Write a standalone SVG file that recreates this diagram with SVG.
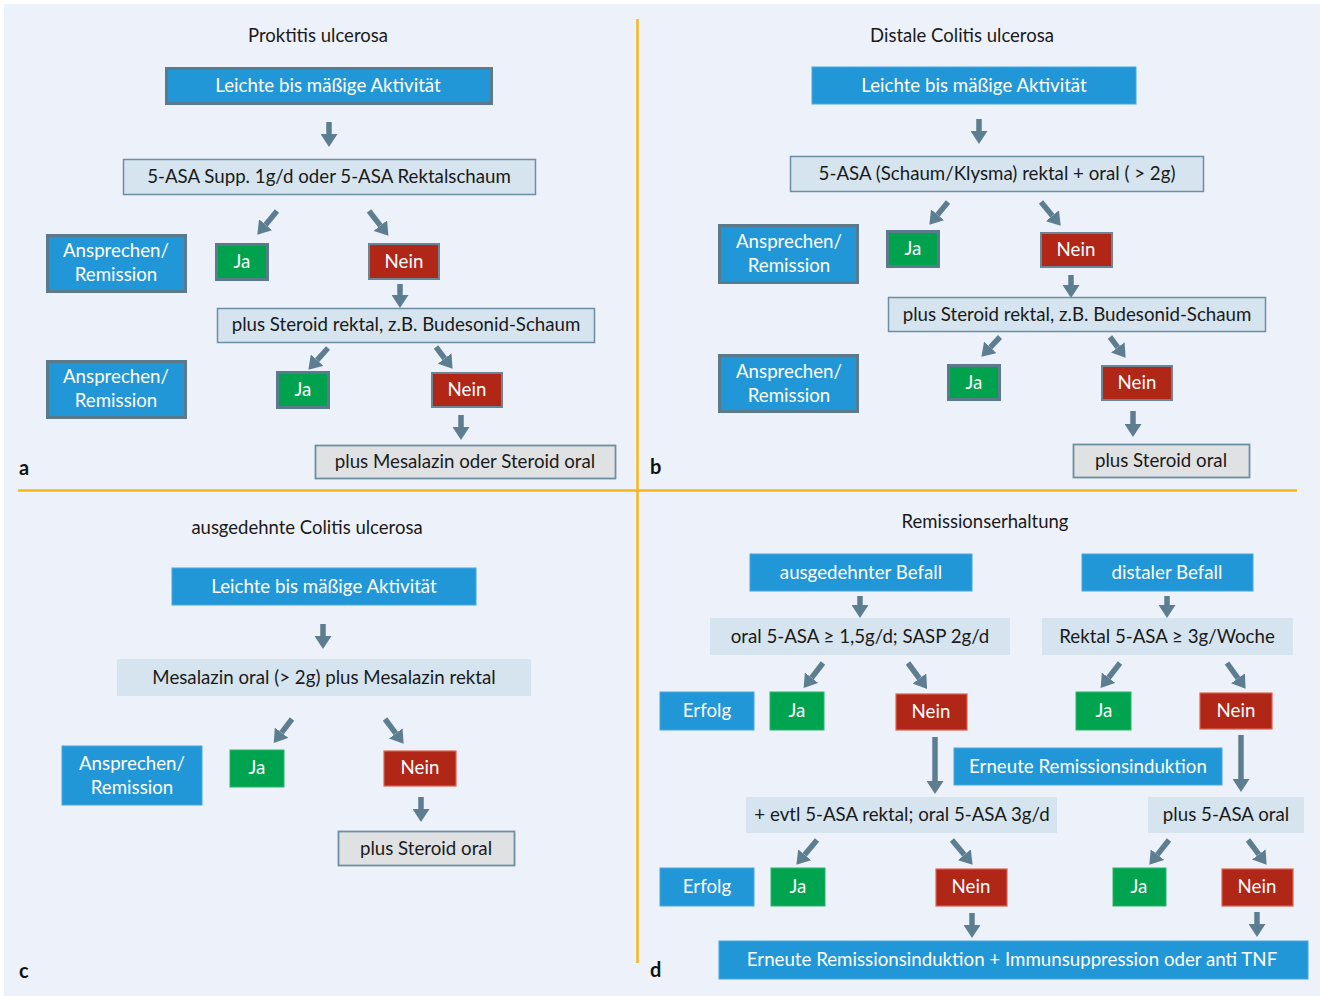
<svg xmlns="http://www.w3.org/2000/svg" width="1320" height="996" viewBox="0 0 1320 996">
<defs>
<marker id="ah" markerUnits="userSpaceOnUse" markerWidth="13" markerHeight="17" refX="0" refY="8.5" orient="auto" viewBox="0 0 13 17">
<path d="M0,0 L13,8.5 L0,17 z" fill="#5d7e90"/>
</marker>
<style>
text{font-family:Lato,"Liberation Sans",sans-serif;font-size:18.7px;text-anchor:middle}
.t{fill:#1a1a1a;font-size:18.5px}
.w{fill:#ffffff}
.k{fill:#1a1a1a}
.lbl{fill:#111;font-weight:bold;font-size:20px;text-anchor:start}
.bd{fill:#2297d7;stroke:#5b7b8d;stroke-width:3}
.b{fill:#2297d7;stroke:#4aa6dc;stroke-width:1}
.gd{fill:#00a24d;stroke:#5b7b8d;stroke-width:3}
.g{fill:#00a44f;stroke:#2bb56a;stroke-width:1}
.rd{fill:#b02617;stroke:#6a8596;stroke-width:2}
.r{fill:#b02617;stroke:#e0604f;stroke-width:1.2}
.lb{fill:#d5e4ee;stroke:#6d8fa3;stroke-width:1.5}
.ln{fill:#d5e4ee}
.gr{fill:#e0e1e3;stroke:#6d8fa3;stroke-width:1.8}
.ar{stroke:#5d7e90;stroke-width:5.5;fill:none;marker-end:url(#ah)}
.div{stroke:#f8b719;stroke-width:2.5}
</style>
</defs>
<rect x="4" y="4" width="1316" height="992" fill="#edf1f9"/>
<rect x="0" y="0" width="1320" height="4" fill="#ffffff"/>
<rect x="0" y="0" width="4" height="996" fill="#ffffff"/>
<g id="dividers">
<line class="div" x1="637.5" y1="19" x2="637.5" y2="963"/>
<line class="div" x1="18" y1="490.5" x2="1297" y2="490.5"/>
</g>

<g id="connectors">
<line class="ar" x1="329" y1="122" x2="329" y2="134"/>
<line class="ar" x1="277" y1="211" x2="265.6" y2="224.7"/>
<line class="ar" x1="369" y1="211" x2="380.4" y2="225.6"/>
<line class="ar" x1="400" y1="284" x2="400" y2="295"/>
<line class="ar" x1="328" y1="348" x2="317.1" y2="360.1"/>
<line class="ar" x1="436" y1="347" x2="444.7" y2="358.5"/>
<line class="ar" x1="461" y1="415" x2="461" y2="427"/>

<line class="ar" x1="979" y1="119" x2="979" y2="131"/>
<line class="ar" x1="948" y1="202" x2="937.6" y2="214.7"/>
<line class="ar" x1="1041" y1="202" x2="1052.4" y2="215.7"/>
<line class="ar" x1="1071" y1="275" x2="1071" y2="285"/>
<line class="ar" x1="1000" y1="337" x2="990.3" y2="347.3"/>
<line class="ar" x1="1110" y1="337" x2="1117.8" y2="347.4"/>
<line class="ar" x1="1133" y1="411" x2="1133" y2="424"/>

<line class="ar" x1="323" y1="624" x2="323" y2="636"/>
<line class="ar" x1="292" y1="719" x2="281.6" y2="732.7"/>
<line class="ar" x1="385" y1="719" x2="395.8" y2="733.4"/>
<line class="ar" x1="421" y1="797" x2="421" y2="809"/>

<line class="ar" x1="860" y1="596" x2="860" y2="605"/>
<line class="ar" x1="1167" y1="596" x2="1167" y2="605"/>
<line class="ar" x1="823" y1="663" x2="811.6" y2="677.7"/>
<line class="ar" x1="908" y1="663" x2="919.4" y2="678.5"/>
<line class="ar" x1="1120" y1="663" x2="1108.6" y2="677.7"/>
<line class="ar" x1="1227" y1="663" x2="1238" y2="678.3"/>
<line class="ar" x1="935" y1="737" x2="935" y2="781"/>
<line class="ar" x1="1241" y1="735" x2="1241" y2="779"/>
<line class="ar" x1="817" y1="840" x2="804.7" y2="854.8"/>
<line class="ar" x1="952" y1="840" x2="964.3" y2="854.8"/>
<line class="ar" x1="1169" y1="840" x2="1157.4" y2="854.6"/>
<line class="ar" x1="1248" y1="840" x2="1258.8" y2="854.4"/>
<line class="ar" x1="972" y1="913" x2="972" y2="925"/>
<line class="ar" x1="1257" y1="912" x2="1257" y2="924"/>
</g>

<!-- Panel a -->
<g id="a-title"><text class="t" x="318" y="42">Proktitis ulcerosa</text></g>
<g id="a-aktiv"><rect class="bd" x="166.5" y="68.5" width="325" height="35"/><text class="w" x="328" y="92">Leichte bis mäßige Aktivität</text></g>
<g id="a-asa"><rect class="lb" x="123.5" y="159.5" width="412" height="35"/><text class="k" x="329" y="183">5-ASA Supp. 1g/d oder 5-ASA Rektalschaum</text></g>
<g id="a-resp1"><rect class="bd" x="47.5" y="235.5" width="138" height="56"/><text class="w" x="116" y="257">Ansprechen/</text><text class="w" x="116" y="281">Remission</text></g>
<g id="a-ja1"><rect class="gd" x="216.5" y="244.5" width="51" height="35"/><text class="w" x="242" y="268">Ja</text></g>
<g id="a-nein1"><rect class="rd" x="369" y="244" width="70" height="35"/><text class="w" x="404" y="268">Nein</text></g>
<g id="a-steroid"><rect class="lb" x="217.5" y="308.5" width="377" height="34"/><text class="k" x="406" y="331">plus Steroid rektal, z.B. Budesonid-Schaum</text></g>
<g id="a-resp2"><rect class="bd" x="47.5" y="361.5" width="138" height="56"/><text class="w" x="116" y="383">Ansprechen/</text><text class="w" x="116" y="407">Remission</text></g>
<g id="a-ja2"><rect class="gd" x="277.5" y="372.5" width="51" height="35"/><text class="w" x="303" y="396">Ja</text></g>
<g id="a-nein2"><rect class="rd" x="432" y="373" width="70" height="34"/><text class="w" x="467" y="396">Nein</text></g>
<g id="a-final"><rect class="gr" x="315.5" y="445.5" width="300" height="33"/><text class="k" x="465" y="468">plus Mesalazin oder Steroid oral</text></g>
<g id="a-label"><text class="lbl" x="19" y="475">a</text></g>

<!-- Panel b -->
<g id="b-title"><text class="t" x="962" y="42">Distale Colitis ulcerosa</text></g>
<g id="b-aktiv"><rect class="b" x="812" y="67" width="324" height="37"/><text class="w" x="974" y="92">Leichte bis mäßige Aktivität</text></g>
<g id="b-asa"><rect class="lb" x="790.5" y="156.5" width="413" height="35"/><text class="k" x="997" y="180">5-ASA (Schaum/Klysma) rektal + oral ( &gt; 2g)</text></g>
<g id="b-resp1"><rect class="bd" x="719.5" y="225.5" width="138" height="57"/><text class="w" x="789" y="248">Ansprechen/</text><text class="w" x="789" y="272">Remission</text></g>
<g id="b-ja1"><rect class="gd" x="887.5" y="231.5" width="51" height="35"/><text class="w" x="913" y="255">Ja</text></g>
<g id="b-nein1"><rect class="rd" x="1041" y="233" width="71" height="34"/><text class="w" x="1076" y="256">Nein</text></g>
<g id="b-steroid"><rect class="lb" x="888.5" y="297.5" width="377" height="34"/><text class="k" x="1077" y="321">plus Steroid rektal, z.B. Budesonid-Schaum</text></g>
<g id="b-resp2"><rect class="bd" x="719.5" y="355.5" width="138" height="56"/><text class="w" x="789" y="378">Ansprechen/</text><text class="w" x="789" y="402">Remission</text></g>
<g id="b-ja2"><rect class="gd" x="948.5" y="365.5" width="51" height="34"/><text class="w" x="974" y="389">Ja</text></g>
<g id="b-nein2"><rect class="rd" x="1102" y="366" width="70" height="34"/><text class="w" x="1137" y="389">Nein</text></g>
<g id="b-final"><rect class="gr" x="1073.5" y="444.5" width="176" height="33"/><text class="k" x="1161" y="467">plus Steroid oral</text></g>
<g id="b-label"><text class="lbl" x="650" y="474">b</text></g>

<!-- Panel c -->
<g id="c-title"><text class="t" x="307" y="534">ausgedehnte Colitis ulcerosa</text></g>
<g id="c-aktiv"><rect class="b" x="172" y="568" width="304" height="37"/><text class="w" x="324" y="593">Leichte bis mäßige Aktivität</text></g>
<g id="c-mesa"><rect class="ln" x="117" y="659" width="414" height="37"/><text class="k" x="324" y="684">Mesalazin oral (&gt; 2g) plus Mesalazin rektal</text></g>
<g id="c-resp"><rect class="b" x="62" y="746" width="140" height="59"/><text class="w" x="132" y="770">Ansprechen/</text><text class="w" x="132" y="794">Remission</text></g>
<g id="c-ja"><rect class="g" x="230" y="750" width="54" height="37"/><text class="w" x="257" y="774">Ja</text></g>
<g id="c-nein"><rect class="r" x="384" y="751" width="72" height="35"/><text class="w" x="420" y="774">Nein</text></g>
<g id="c-final"><rect class="gr" x="338.5" y="831.5" width="176" height="34"/><text class="k" x="426" y="855">plus Steroid oral</text></g>
<g id="c-label"><text class="lbl" x="19" y="978">c</text></g>

<!-- Panel d -->
<g id="d-title"><text class="t" x="985" y="528">Remissionserhaltung</text></g>
<g id="d-ausg"><rect class="b" x="750" y="554" width="222" height="37"/><text class="w" x="861" y="579">ausgedehnter Befall</text></g>
<g id="d-dist"><rect class="b" x="1082" y="554" width="171" height="37"/><text class="w" x="1167" y="579">distaler Befall</text></g>
<g id="d-oral"><rect class="ln" x="710" y="618" width="300" height="37"/><text class="k" x="860" y="643">oral 5-ASA ≥ 1,5g/d; SASP 2g/d</text></g>
<g id="d-rekt"><rect class="ln" x="1042" y="618" width="251" height="37"/><text class="k" x="1167" y="643">Rektal 5-ASA ≥ 3g/Woche</text></g>
<g id="d-erfolg1"><rect class="b" x="660" y="692" width="94" height="38"/><text class="w" x="707" y="717">Erfolg</text></g>
<g id="d-ja1"><rect class="g" x="770" y="692" width="54" height="38"/><text class="w" x="797" y="717">Ja</text></g>
<g id="d-nein1"><rect class="r" x="896" y="694" width="71" height="36"/><text class="w" x="931" y="718">Nein</text></g>
<g id="d-ja2"><rect class="g" x="1076" y="692" width="55" height="38"/><text class="w" x="1104" y="717">Ja</text></g>
<g id="d-nein2"><rect class="r" x="1200" y="693" width="72" height="36"/><text class="w" x="1236" y="717">Nein</text></g>
<g id="d-erneut"><rect class="b" x="954" y="748" width="268" height="37"/><text class="w" x="1088" y="773">Erneute Remissionsinduktion</text></g>
<g id="d-evtl"><rect class="ln" x="746" y="797" width="311" height="36"/><text class="k" x="902" y="821">+ evtl 5-ASA rektal; oral 5-ASA 3g/d</text></g>
<g id="d-plus"><rect class="ln" x="1148" y="797" width="156" height="36"/><text class="k" x="1226" y="821">plus 5-ASA oral</text></g>
<g id="d-erfolg2"><rect class="b" x="660" y="868" width="94" height="38"/><text class="w" x="707" y="893">Erfolg</text></g>
<g id="d-ja3"><rect class="g" x="771" y="868" width="54" height="38"/><text class="w" x="798" y="893">Ja</text></g>
<g id="d-nein3"><rect class="r" x="936" y="869" width="71" height="37"/><text class="w" x="971" y="893">Nein</text></g>
<g id="d-ja4"><rect class="g" x="1113" y="868" width="53" height="38"/><text class="w" x="1139" y="893">Ja</text></g>
<g id="d-nein4"><rect class="r" x="1222" y="869" width="71" height="37"/><text class="w" x="1257" y="893">Nein</text></g>
<g id="d-final"><rect class="b" x="719" y="941" width="589" height="38"/><text class="w" x="1012" y="966">Erneute Remissionsinduktion + Immunsuppression oder anti TNF</text></g>
<g id="d-label"><text class="lbl" x="650" y="977">d</text></g>
</svg>
